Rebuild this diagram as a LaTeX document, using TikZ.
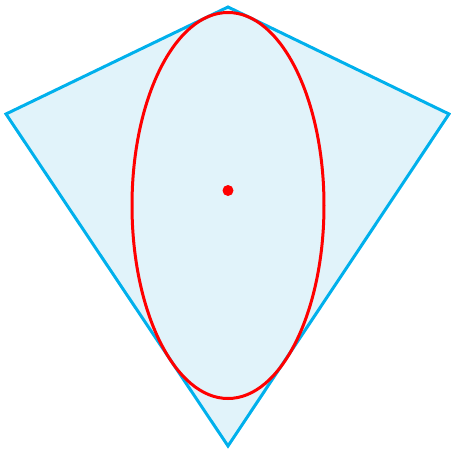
\documentclass[tikz,border=0pt]{standalone}
\begin{document}
\begin{tikzpicture}[x=0.5pt,y=-0.5pt,
  kite/.style={draw={rgb,255:red,0;green,176;blue,236},fill={rgb,255:red,225;green,243;blue,250},line width=1.5pt,line join=miter},
  ell/.style={draw=red,line width=1.5pt},
  dotc/.style={circle,fill=red,inner sep=0pt,minimum size=5.5pt}]
\useasboundingbox (0,0) rectangle (451,451);
\coordinate (T) at (228,7);
\coordinate (L) at (6,114);
\coordinate (R) at (449,114);
\coordinate (B) at (228,446);
\draw[kite] (T) -- (R) -- (B) -- (L) -- cycle;
\draw[ell] (228,205.5) ellipse [x radius=96, y radius=193];
\node[dotc] (c) at (228,190.5) {};
\end{tikzpicture}
\end{document}
